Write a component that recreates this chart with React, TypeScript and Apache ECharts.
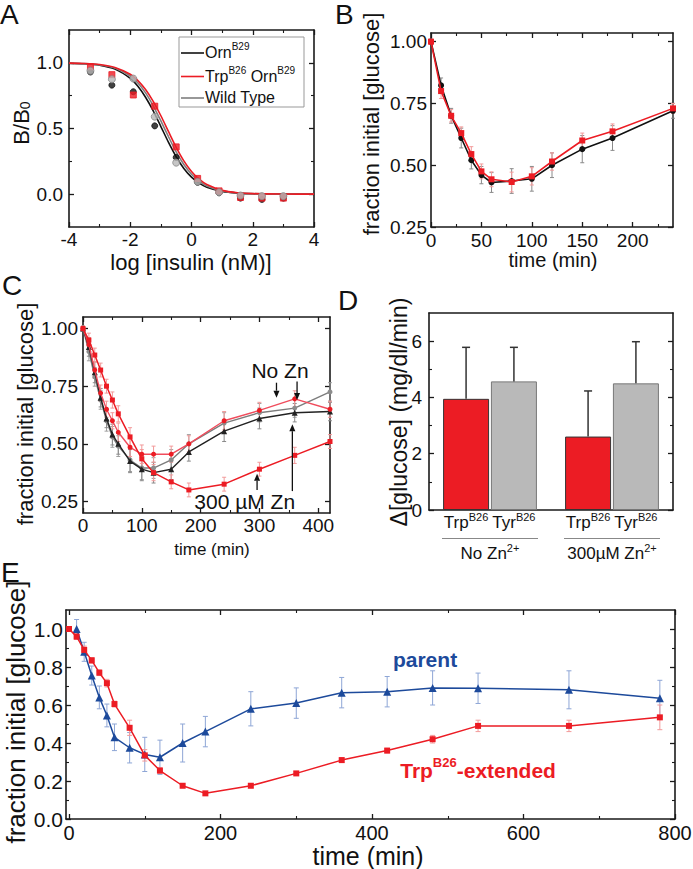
import React, { useEffect, useRef } from 'react';
import * as echarts from 'echarts';

const FONT = '"Liberation Sans", Arial, Helvetica, sans-serif';

// ---------- Panel A: competitive binding ----------
const aDose = [-3.3, -2.6, -1.9, -1.2, -0.5, 0.2, 0.9, 1.6, 2.3, 3.0];
const aOrn = [0.93, 0.83, 0.78, 0.52, 0.28, 0.09, 0.01, -0.03, -0.04, -0.03];
const aTrpOrn = [0.97, 0.91, 0.755, 0.67, 0.36, 0.12, 0.025, -0.025, -0.03, -0.03];
const aWildType = [0.94, 0.875, 0.88, 0.59, 0.24, 0.095, 0.015, -0.01, -0.015, -0.015];
const aFitX = [-4, -3.5, -3, -2.5, -2, -1.75, -1.5, -1.25, -1, -0.75, -0.5, -0.25, 0, 0.25, 0.5, 1, 1.5, 2, 3, 4];
const aFitOrn = [0.997, 0.993, 0.982, 0.952, 0.882, 0.822, 0.738, 0.634, 0.515, 0.394, 0.285, 0.196, 0.13, 0.084, 0.053, 0.021, 0.008, 0.003, 0.0, 0.0];
const aFitTrpOrn = [0.998, 0.995, 0.987, 0.965, 0.913, 0.865, 0.797, 0.707, 0.597, 0.476, 0.357, 0.254, 0.173, 0.114, 0.073, 0.029, 0.011, 0.004, 0.001, 0.0];
const aFitWildType = [0.998, 0.994, 0.984, 0.96, 0.9, 0.846, 0.771, 0.673, 0.558, 0.437, 0.322, 0.226, 0.152, 0.099, 0.063, 0.025, 0.009, 0.004, 0.0, 0.0];
const aXTicks = [-4, -2, 0, 2, 4];
const aXMinor = [-3, -1, 1, 3];
const aYTicks = [0, 0.5, 1.0];
const aYMinor = [0.25, 0.75];

// ---------- Panel B ----------
const bTime = [0, 10, 20, 30, 40, 50, 60, 80, 100, 120, 150, 180, 240];
const bOrn = [1.0, 0.823, 0.70, 0.61, 0.52, 0.46, 0.43, 0.436, 0.445, 0.50, 0.565, 0.61, 0.72];
const bOrnErr = [0.01, 0.03, 0.03, 0.04, 0.035, 0.035, 0.04, 0.05, 0.05, 0.05, 0.055, 0.05, 0.03];
const bTrpOrn = [1.0, 0.80, 0.70, 0.63, 0.545, 0.475, 0.443, 0.432, 0.455, 0.515, 0.60, 0.637, 0.73];
const bTrpOrnErr = [0.01, 0.03, 0.025, 0.025, 0.03, 0.03, 0.03, 0.04, 0.035, 0.035, 0.03, 0.03, 0.02];
const bXTicks = [0, 50, 100, 150, 200];
const bXMinor = [25, 75, 125, 175, 225];
const bYTicks = [0.25, 0.5, 0.75, 1.0];

// ---------- Panel C ----------
const cTime = [0, 10, 20, 30, 40, 50, 60, 80, 100, 120, 150, 180, 240, 300, 360, 420];
const cTrpZn = [1.0, 0.95, 0.885, 0.82, 0.75, 0.69, 0.63, 0.53, 0.435, 0.375, 0.335, 0.30, 0.325, 0.39, 0.45, 0.51];
const cTrpZnErr = [0.01, 0.03, 0.03, 0.03, 0.03, 0.035, 0.035, 0.04, 0.04, 0.035, 0.03, 0.03, 0.03, 0.03, 0.035, 0.03];
const cTrpNoZn = [1.0, 0.93, 0.82, 0.72, 0.65, 0.60, 0.55, 0.485, 0.455, 0.455, 0.455, 0.50, 0.60, 0.645, 0.695, 0.65];
const cTrpNoZnErr = [0.01, 0.03, 0.035, 0.035, 0.035, 0.035, 0.04, 0.04, 0.04, 0.035, 0.035, 0.035, 0.04, 0.035, 0.035, 0.035];
const cTyrZn = [1.0, 0.92, 0.81, 0.70, 0.61, 0.54, 0.50, 0.425, 0.39, 0.375, 0.39, 0.465, 0.555, 0.61, 0.635, 0.64];
const cTyrZnErr = [0.01, 0.04, 0.045, 0.04, 0.04, 0.045, 0.045, 0.05, 0.05, 0.045, 0.045, 0.04, 0.045, 0.045, 0.04, 0.04];
const cTyrNoZn = [1.0, 0.90, 0.79, 0.69, 0.60, 0.53, 0.49, 0.43, 0.395, 0.395, 0.43, 0.50, 0.59, 0.635, 0.655, 0.725];
const cTyrNoZnErr = [0.01, 0.04, 0.04, 0.04, 0.045, 0.045, 0.045, 0.05, 0.05, 0.045, 0.045, 0.04, 0.045, 0.04, 0.04, 0.04];
const cXTicks = [0, 100, 200, 300, 400];
const cXMinor = [50, 150, 250, 350];
const cYTicks = [0.25, 0.5, 0.75, 1.0];

// ---------- Panel D ----------
const dGroups = ['No Zn', '300µM Zn'];
const dTrp = [3.95, 2.61];
const dTrpErr = [1.83, 1.62];
const dTyr = [4.57, 4.50];
const dTyrErr = [1.21, 1.48];
const dYTicks = [0, 2, 4, 6];
const dYMinor = [1, 3, 5];

// ---------- Panel E ----------
const eTrpTime = [0, 10, 20, 30, 40, 50, 60, 80, 100, 120, 150, 180, 240, 300, 360, 420, 480, 540, 660, 780];
const eTrp = [1.0, 0.96, 0.89, 0.835, 0.77, 0.715, 0.605, 0.48, 0.335, 0.255, 0.175, 0.135, 0.175, 0.24, 0.31, 0.36, 0.42, 0.49, 0.49, 0.535];
const eTrpErr = [0.01, 0.015, 0.02, 0.015, 0.015, 0.02, 0.015, 0.04, 0.03, 0.015, 0.01, 0.01, 0.01, 0.01, 0.012, 0.012, 0.02, 0.03, 0.03, 0.065];
const eParentTime = [10, 20, 30, 40, 50, 60, 80, 100, 120, 150, 180, 240, 300, 360, 420, 480, 540, 660, 780];
const eParent = [1.0, 0.88, 0.755, 0.64, 0.545, 0.43, 0.375, 0.34, 0.325, 0.40, 0.46, 0.58, 0.61, 0.665, 0.67, 0.69, 0.688, 0.68, 0.635];
const eParentErr = [0.05, 0.05, 0.05, 0.06, 0.06, 0.07, 0.08, 0.09, 0.09, 0.1, 0.08, 0.09, 0.08, 0.08, 0.08, 0.09, 0.08, 0.1, 0.095];
const eXTicks = [0, 200, 400, 600, 800];
const eXMinor = [100, 300, 500, 700];
const eYTicks = [0, 0.2, 0.4, 0.6, 0.8, 1.0];
const eYMinor = [0.1, 0.3, 0.5, 0.7, 0.9];

// ---------- layout / style ----------
const GRIDS = [
  { left: 69, top: 30, width: 245, height: 197 },
  { left: 431, top: 33, width: 242, height: 194 },
  { left: 83, top: 317, width: 247, height: 196 },
  { left: 429, top: 313, width: 244, height: 197 },
  { left: 66, top: 610, width: 609, height: 209 },
];
const RANGES: { x: [number, number]; y: [number, number] }[] = [
  { x: [-4, 4], y: [-0.25, 1.25] },
  { x: [0, 240], y: [0.25, 1.035] },
  { x: [0, 420], y: [0.2, 1.05] },
  { x: [0, 1], y: [0, 7] },
  { x: [-4, 800], y: [0, 1.1] },
];

const AX = '#1a1a1a';
const RED = '#ec1c24';
const RED_ERR = '#f29a9a';
const BLACK = '#111111';
const GRAY_ERR = '#8a8a8a';
const GRAY_LINE = '#7c7c7c';
const PINK = '#f04c5c';
const BLUE = '#1d4a9b';
const BLUE_ERR = '#8ea6d6';
const BAR_W = 46;
const BAR_GAP = 0.04;
const BAR_OFF = (BAR_W + BAR_W * BAR_GAP) / 2;

const fmtInt = (v: number) => String(Math.round(v));
const fmt1 = (v: number) => v.toFixed(1);
const fmt2 = (v: number) => v.toFixed(2);

function addValAxes(list: any[], dim: 'x' | 'y', grid: number, range: [number, number], majors: number[], minors: number[], lab: { size: number; margin: number; fmt: (v: number) => string }) {
  const posA = dim === 'x' ? 'bottom' : 'left';
  const posB = dim === 'x' ? 'top' : 'right';
  const base = { type: 'value', gridIndex: grid, min: range[0], max: range[1], splitLine: { show: false }, splitArea: { show: false }, silent: true };
  const line = { show: true, onZero: false, lineStyle: { color: AX, width: 1.6 } };
  const noLine = { show: false, onZero: false };
  const majTick = { show: true, inside: true, length: 5, customValues: majors, lineStyle: { color: AX, width: 1.3 } };
  const minTick = { show: true, inside: true, length: 3, customValues: minors, lineStyle: { color: AX, width: 1.1 } };
  const mainIdx = list.length;
  list.push({
    ...base, position: posA, axisLine: line, axisTick: majTick,
    axisLabel: { show: true, customValues: majors, formatter: lab.fmt, fontSize: lab.size, fontFamily: FONT, color: '#111', margin: lab.margin },
  });
  if (minors.length) list.push({ ...base, position: posA, axisLine: noLine, axisTick: minTick, axisLabel: { show: false } });
  list.push({ ...base, position: posB, axisLine: line, axisTick: majTick, axisLabel: { show: false } });
  if (minors.length) list.push({ ...base, position: posB, axisLine: noLine, axisTick: minTick, axisLabel: { show: false } });
  return mainIdx;
}

function toPx(g: number, x: number, y: number): [number, number] {
  const b = GRIDS[g];
  const r = RANGES[g];
  return [b.left + ((x - r.x[0]) / (r.x[1] - r.x[0])) * b.width, b.top + ((r.y[1] - y) / (r.y[1] - r.y[0])) * b.height];
}

function rich(size: number, color: string, bold = false) {
  const fw = bold ? 'bold' : 'normal';
  const small = Math.round(size * 0.64);
  return {
    n: { fontSize: size, fontFamily: FONT, fontWeight: fw, fill: color, color, lineHeight: Math.round(size * 1.2), verticalAlign: 'bottom' },
    s: { fontSize: small, fontFamily: FONT, fontWeight: fw, fill: color, color, lineHeight: Math.round(size * 0.62), verticalAlign: 'top' },
    b: { fontSize: small, fontFamily: FONT, fontWeight: fw, fill: color, color, lineHeight: Math.round(size * 0.62), verticalAlign: 'bottom' },
  };
}

function txt(x: number, y: number, text: string, size: number, o: any = {}) {
  const align = o.align || 'center';
  const va = o.va || 'middle';
  const color = o.color || '#111';
  return {
    type: 'text', x, y, rotation: o.rot || 0, silent: true, z: 100,
    style: {
      text, fontSize: size, fontFamily: FONT, fontWeight: o.bold ? 'bold' : 'normal', fill: color,
      align, verticalAlign: va, textAlign: align, textVerticalAlign: va,
      rich: o.rich ? rich(size, color, !!o.bold) : undefined,
    },
  };
}

function lineSeries(xi: number, yi: number, xs: number[], ys: number[], color: string, symbol: string, size: number, o: any = {}) {
  return {
    type: 'line', xAxisIndex: xi, yAxisIndex: yi, data: xs.map((x, i) => [x, ys[i]]),
    symbol, symbolSize: size, showSymbol: symbol !== 'none', showAllSymbol: true,
    smooth: o.smooth || false,
    lineStyle: { color, width: o.width || 1.5 },
    itemStyle: { color: o.mcolor || color, borderColor: o.border || o.mcolor || color, borderWidth: o.border ? 1 : 0 },
    z: o.z || 3, silent: true, emphasis: { disabled: true },
  };
}

function scatterSeries(xi: number, yi: number, xs: number[], ys: number[], color: string, symbol: string, size: number, border: string, z: number) {
  return {
    type: 'scatter', xAxisIndex: xi, yAxisIndex: yi, data: xs.map((x, i) => [x, ys[i]]),
    symbol, symbolSize: size, itemStyle: { color, borderColor: border, borderWidth: 1 }, z, silent: true,
    emphasis: { disabled: true },
  };
}

function errSeries(xi: number, yi: number, xs: number[], ys: number[], es: number[], color: string, cap: number) {
  return {
    type: 'custom', xAxisIndex: xi, yAxisIndex: yi, silent: true, z: 2,
    data: xs.map((x, i) => [x, ys[i] - es[i], ys[i] + es[i]]),
    encode: { x: 0, y: [1, 2] },
    renderItem: (_p: any, api: any) => {
      const x = api.value(0);
      const lo = api.coord([x, api.value(1)]);
      const hi = api.coord([x, api.value(2)]);
      const st = { stroke: color, lineWidth: 1 };
      return {
        type: 'group',
        children: [
          { type: 'line', shape: { x1: lo[0], y1: lo[1], x2: hi[0], y2: hi[1] }, style: st },
          { type: 'line', shape: { x1: lo[0] - cap, y1: lo[1], x2: lo[0] + cap, y2: lo[1] }, style: st },
          { type: 'line', shape: { x1: hi[0] - cap, y1: hi[1], x2: hi[0] + cap, y2: hi[1] }, style: st },
        ],
      };
    },
  };
}

function barErrSeries(xi: number, yi: number, vals: number[], errs: number[], off: number) {
  return {
    type: 'custom', xAxisIndex: xi, yAxisIndex: yi, silent: true, z: 5,
    data: vals.map((v, i) => [i, v, v + errs[i]]),
    encode: { x: 0, y: [1, 2] },
    renderItem: (_p: any, api: any) => {
      const lo = api.coord([api.value(0), api.value(1)]);
      const hi = api.coord([api.value(0), api.value(2)]);
      const x = lo[0] + off;
      const st = { stroke: '#333', lineWidth: 1.5 };
      return {
        type: 'group',
        children: [
          { type: 'line', shape: { x1: x, y1: lo[1], x2: x, y2: hi[1] }, style: st },
          { type: 'line', shape: { x1: x - 4, y1: hi[1], x2: x + 4, y2: hi[1] }, style: st },
        ],
      };
    },
  };
}

function arrow(p0: [number, number], p1: [number, number]) {
  const dir = p1[1] > p0[1] ? 1 : -1;
  const head = 7;
  const hw = 3;
  return [
    { type: 'line', silent: true, z: 100, shape: { x1: p0[0], y1: p0[1], x2: p1[0], y2: p1[1] - dir * head }, style: { stroke: '#111', lineWidth: 1.3 } },
    { type: 'polygon', silent: true, z: 100, shape: { points: [[p1[0], p1[1]], [p1[0] - hw, p1[1] - dir * head], [p1[0] + hw, p1[1] - dir * head]] }, style: { fill: '#111' } },
  ];
}

function buildOption() {
  const xAxis: any[] = [];
  const yAxis: any[] = [];
  const series: any[] = [];
  const graphic: any[] = [];

  // ----- A -----
  const aX = addValAxes(xAxis, 'x', 0, RANGES[0].x, aXTicks, aXMinor, { size: 19, margin: 3, fmt: fmtInt });
  const aY = addValAxes(yAxis, 'y', 0, RANGES[0].y, aYTicks, aYMinor, { size: 19, margin: 6, fmt: fmt1 });
  series.push(lineSeries(aX, aY, aFitX, aFitOrn, BLACK, 'none', 0, { smooth: 0.25, width: 1.6, z: 2 }));
  series.push(lineSeries(aX, aY, aFitX, aFitWildType, '#7f7f7f', 'none', 0, { smooth: 0.25, width: 1.6, z: 2 }));
  series.push(lineSeries(aX, aY, aFitX, aFitTrpOrn, RED, 'none', 0, { smooth: 0.25, width: 1.6, z: 2 }));
  series.push(scatterSeries(aX, aY, aDose, aOrn, BLACK, 'circle', 6, BLACK, 3));
  series.push(scatterSeries(aX, aY, aDose, aTrpOrn, RED, 'rect', 6, RED, 4));
  series.push(scatterSeries(aX, aY, aDose, aWildType, '#b8b8b8', 'circle', 7, '#8a8a8a', 5));

  // ----- B -----
  const bX = addValAxes(xAxis, 'x', 1, RANGES[1].x, bXTicks, bXMinor, { size: 19, margin: 4, fmt: fmtInt });
  const bY = addValAxes(yAxis, 'y', 1, RANGES[1].y, bYTicks, [], { size: 19, margin: 4, fmt: fmt2 });
  series.push(errSeries(bX, bY, bTime, bOrn, bOrnErr, GRAY_ERR, 2));
  series.push(errSeries(bX, bY, bTime, bTrpOrn, bTrpOrnErr, RED_ERR, 2));
  series.push(lineSeries(bX, bY, bTime, bOrn, BLACK, 'circle', 6, { width: 1.6, z: 3 }));
  series.push(lineSeries(bX, bY, bTime, bTrpOrn, RED, 'rect', 6, { width: 1.6, z: 4 }));

  // ----- C -----
  const cX = addValAxes(xAxis, 'x', 2, RANGES[2].x, cXTicks, cXMinor, { size: 19, margin: 3, fmt: fmtInt });
  const cY = addValAxes(yAxis, 'y', 2, RANGES[2].y, cYTicks, [], { size: 19, margin: 5, fmt: fmt2 });
  series.push(errSeries(cX, cY, cTime, cTyrNoZn, cTyrNoZnErr, '#a0a0a0', 2));
  series.push(errSeries(cX, cY, cTime, cTyrZn, cTyrZnErr, GRAY_ERR, 2));
  series.push(errSeries(cX, cY, cTime, cTrpNoZn, cTrpNoZnErr, RED_ERR, 2));
  series.push(errSeries(cX, cY, cTime, cTrpZn, cTrpZnErr, RED_ERR, 2));
  series.push(lineSeries(cX, cY, cTime, cTyrNoZn, GRAY_LINE, 'circle', 5, { width: 1.4, z: 3, mcolor: '#8c8c8c' }));
  series.push(lineSeries(cX, cY, cTime, cTyrZn, '#222222', 'triangle', 6, { width: 1.4, z: 4 }));
  series.push(lineSeries(cX, cY, cTime, cTrpNoZn, PINK, 'circle', 5, { width: 1.4, z: 5, mcolor: RED }));
  series.push(lineSeries(cX, cY, cTime, cTrpZn, RED, 'rect', 5, { width: 1.5, z: 6 }));

  // ----- D -----
  const dX = xAxis.length;
  xAxis.push({ type: 'category', gridIndex: 3, data: dGroups, position: 'bottom', axisLine: { show: true, onZero: false, lineStyle: { color: AX, width: 1.6 } }, axisTick: { show: false }, axisLabel: { show: false }, splitLine: { show: false }, silent: true });
  xAxis.push({ type: 'category', gridIndex: 3, data: dGroups, position: 'top', axisLine: { show: true, onZero: false, lineStyle: { color: AX, width: 1.6 } }, axisTick: { show: false }, axisLabel: { show: false }, splitLine: { show: false }, silent: true });
  const dY = addValAxes(yAxis, 'y', 3, RANGES[3].y, dYTicks, dYMinor, { size: 19, margin: 7, fmt: fmtInt });
  series.push({ type: 'bar', xAxisIndex: dX, yAxisIndex: dY, data: dTrp, barWidth: BAR_W, barGap: `${BAR_GAP * 100}%`, itemStyle: { color: RED, borderColor: '#333', borderWidth: 1 }, z: 3, silent: true });
  series.push({ type: 'bar', xAxisIndex: dX, yAxisIndex: dY, data: dTyr, barWidth: BAR_W, barGap: `${BAR_GAP * 100}%`, itemStyle: { color: '#b9b9b9', borderColor: '#777', borderWidth: 1 }, z: 3, silent: true });
  series.push(barErrSeries(dX, dY, dTrp, dTrpErr, -BAR_OFF));
  series.push(barErrSeries(dX, dY, dTyr, dTyrErr, BAR_OFF));

  // ----- E -----
  const eX = addValAxes(xAxis, 'x', 4, RANGES[4].x, eXTicks, eXMinor, { size: 20, margin: 4, fmt: fmtInt });
  const eY = addValAxes(yAxis, 'y', 4, RANGES[4].y, eYTicks, eYMinor, { size: 21, margin: 3, fmt: fmt1 });
  series.push(errSeries(eX, eY, eParentTime, eParent, eParentErr, BLUE_ERR, 2.5));
  series.push(errSeries(eX, eY, eTrpTime, eTrp, eTrpErr, RED_ERR, 2.5));
  series.push(lineSeries(eX, eY, eParentTime, eParent, BLUE, 'triangle', 8, { width: 1.5, z: 3 }));
  series.push(lineSeries(eX, eY, eTrpTime, eTrp, RED, 'rect', 6, { width: 1.5, z: 4 }));

  // ----- graphic: panel letters -----
  graphic.push(txt(0, 14, 'A', 28, { align: 'left' }));
  graphic.push(txt(335, 14, 'B', 28, { align: 'left' }));
  graphic.push(txt(2, 285, 'C', 28, { align: 'left' }));
  graphic.push(txt(338, 300, 'D', 28, { align: 'left' }));
  graphic.push(txt(1, 572, 'E', 28, { align: 'left' }));

  // ----- axis titles -----
  const R90 = Math.PI / 2;
  graphic.push(txt(19, 123, '{n|B/B}{b|0}', 22, { rot: R90, rich: true }));
  graphic.push(txt(191, 262, 'log [insulin (nM)]', 22));
  graphic.push(txt(371, 124, 'fraction initial [glucose]', 22, { rot: R90 }));
  graphic.push(txt(553, 260, 'time (min)', 20));
  graphic.push(txt(25, 414, 'fraction initial [glucose]', 22, { rot: R90 }));
  graphic.push(txt(212, 549, 'time (min)', 17));
  graphic.push(txt(399, 412, 'Δ[glucose] (mg/dl/min)', 23, { rot: R90 }));
  graphic.push(txt(16, 712, 'fraction initial [glucose]', 26, { rot: R90 }));
  graphic.push(txt(368, 856, 'time (min)', 25));

  // ----- legend A -----
  graphic.push({ type: 'rect', silent: true, z: 90, shape: { x: 179, y: 37, width: 125, height: 70 }, style: { fill: '#ffffff', stroke: '#999999', lineWidth: 1 } });
  const legend = [
    { y: 53, color: BLACK, text: '{n|Orn}{s|B29}' },
    { y: 76.5, color: RED, text: '{n|Trp}{s|B26}{n| Orn}{s|B29}' },
    { y: 98, color: '#7f7f7f', text: '{n|Wild Type}' },
  ];
  legend.forEach((l) => {
    graphic.push({ type: 'line', silent: true, z: 95, shape: { x1: 181, y1: l.y, x2: 204, y2: l.y }, style: { stroke: l.color, lineWidth: 1.6 } });
    graphic.push(txt(205, l.y - 2, l.text, 16, { align: 'left', rich: true }));
  });

  // ----- D category labels -----
  const gD = GRIDS[3];
  dGroups.forEach((g, i) => {
    const cc = gD.left + (gD.width * (i + 0.5)) / dGroups.length;
    graphic.push(txt(cc - BAR_OFF, 521, '{n|Trp}{s|B26}', 17, { rich: true }));
    graphic.push(txt(cc + BAR_OFF, 521, '{n|Tyr}{s|B26}', 17, { rich: true }));
    graphic.push({ type: 'line', silent: true, z: 100, shape: { x1: cc - 48, y1: 538.5, x2: cc + 48, y2: 538.5 }, style: { stroke: '#888888', lineWidth: 1 } });
    graphic.push(txt(cc, 552, `{n|${g}}{s|2+}`, 17, { rich: true }));
  });

  // ----- C annotations -----
  const noZn = toPx(2, 335, 0.82);
  graphic.push(txt(noZn[0], noZn[1], 'No Zn', 21));
  [[329, 0.765, 0.70], [364, 0.77, 0.69]].forEach((a) => graphic.push(...arrow(toPx(2, a[0], a[1]), toPx(2, a[0], a[2]))));
  const zn = toPx(2, 275, 0.249);
  graphic.push(txt(zn[0], zn[1], '300 µM Zn', 21));
  [[296, 0.30, 0.37], [356, 0.295, 0.585]].forEach((a) => graphic.push(...arrow(toPx(2, a[0], a[1]), toPx(2, a[0], a[2]))));

  // ----- E labels -----
  const pp = toPx(4, 470, 0.837);
  graphic.push(txt(pp[0], pp[1], 'parent', 21, { bold: true, color: BLUE }));
  const tp = toPx(4, 540, 0.268);
  graphic.push(txt(tp[0], tp[1], '{n|Trp}{s|B26}{n|-extended}', 21, { bold: true, color: RED, rich: true }));

  return {
    animation: false,
    backgroundColor: '#ffffff',
    textStyle: { fontFamily: FONT },
    grid: GRIDS.map((g) => ({ ...g, containLabel: false, outerBoundsMode: 'none' })),
    xAxis,
    yAxis,
    series,
    graphic,
  };
}

export default function App() {
  const ref = useRef<HTMLDivElement>(null);
  useEffect(() => {
    if (!ref.current) return;
    const chart = echarts.init(ref.current, undefined, { renderer: 'svg' });
    chart.setOption(buildOption() as any);
    return () => chart.dispose();
  }, []);
  return <div ref={ref} style={{ position: 'fixed', left: 0, top: 0, width: 693, height: 869, background: '#fff' }} />;
}
